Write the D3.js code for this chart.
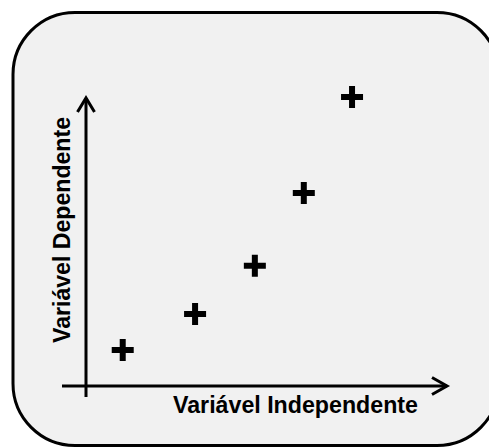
<!DOCTYPE html>
<html>
<head>
<meta charset="utf-8">
<script src="https://cdn.jsdelivr.net/npm/d3@7"></script>
<style>
  html, body { margin: 0; padding: 0; background: #ffffff; }
  svg { display: block; }
</style>
</head>
<body>
<script>
// Data
const xValues = [10.2, 30.3, 46.9, 60.5, 73.9];
const yValues = [12.5, 24.9, 41.6, 66.8, 100];
const xLabel = "Variável Independente";
const yLabel = "Variável Dependente";

const W = 489, H = 448;
const svg = d3.select("body").append("svg").attr("width", W).attr("height", H);

// Rounded frame
svg.append("rect")
  .attr("x", 13).attr("y", 12.5)
  .attr("width", 486).attr("height", 433)
  .attr("rx", 62).attr("ry", 62)
  .attr("fill", "#f1f1f1")
  .attr("stroke", "#000").attr("stroke-width", 3);

const x = d3.scaleLinear().domain([0, 100]).range([86, 446]);
const y = d3.scaleLinear().domain([0, 100]).range([386, 97]);

const axisG = svg.append("g").attr("stroke", "#000").attr("stroke-width", 3).attr("fill", "none");

// Y axis
axisG.append("line").attr("x1", x(0)).attr("x2", x(0)).attr("y1", 397).attr("y2", y(100) + 1);
axisG.append("path")
  .attr("d", `M${x(0) - 8.5},${y(100) + 15} L${x(0)},${y(100) + 1} L${x(0) + 8.5},${y(100) + 15}`)
  .attr("stroke-linejoin", "miter");

// X axis
axisG.append("line").attr("x1", 62).attr("x2", 447).attr("y1", y(0)).attr("y2", y(0));
axisG.append("path")
  .attr("d", `M${432},${y(0) - 8.5} L${447},${y(0)} L${432},${y(0) + 8.5}`)
  .attr("stroke-linejoin", "miter");

// Points as plus marks
const pts = xValues.map((v, i) => ({ x: v, y: yValues[i] }));
const plus = svg.append("g").attr("stroke", "#000").attr("stroke-width", 6);
const half = 11;
plus.selectAll("path").data(pts).join("path")
  .attr("d", d => {
    const cx = x(d.x), cy = y(d.y);
    return `M${cx - half},${cy} L${cx + half},${cy} M${cx},${cy - half} L${cx},${cy + half}`;
  });

// Labels
svg.append("text")
  .attr("x", 173).attr("y", 413)
  .attr("font-family", "Liberation Sans, Arial, sans-serif")
  .attr("font-weight", "bold")
  .attr("font-size", 23)
  .attr("textLength", 245)
  .attr("lengthAdjust", "spacingAndGlyphs")
  .attr("fill", "#000")
  .text(xLabel);

svg.append("text")
  .attr("transform", "translate(69.5,343) rotate(-90)")
  .attr("font-family", "Liberation Sans, Arial, sans-serif")
  .attr("font-weight", "bold")
  .attr("font-size", 23)
  .attr("textLength", 226)
  .attr("lengthAdjust", "spacingAndGlyphs")
  .attr("fill", "#000")
  .text(yLabel);
</script>
</body>
</html>
